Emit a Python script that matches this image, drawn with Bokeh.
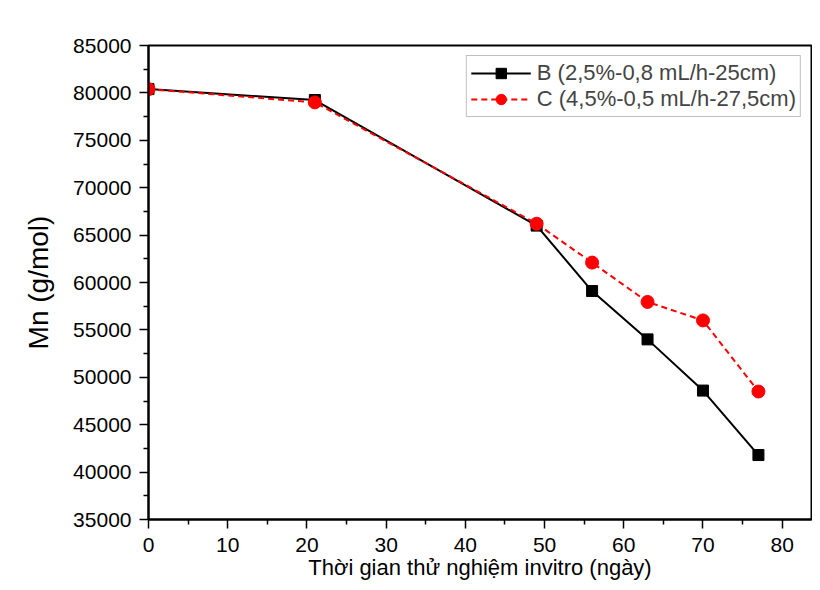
from bokeh.plotting import figure
from bokeh.models import Range1d, FixedTicker
from bokeh.embed import file_html
from bokeh.resources import INLINE

# ---- data ----
days = [0, 21, 49, 56, 63, 70, 77]
mn_B = [80400, 79250, 66000, 59100, 54000, 48600, 41800]
mn_C = [80400, 79000, 66200, 62100, 57950, 56000, 48500]
label_B = "B (2,5%-0,8 mL/h-25cm)"
label_C = "C (4,5%-0,5 mL/h-27,5cm)"
x_ticks = [0, 10, 20, 30, 40, 50, 60, 70, 80]
x_minor = [5, 15, 25, 35, 45, 55, 65, 75]
y_ticks = [35000, 40000, 45000, 50000, 55000, 60000, 65000, 70000, 75000, 80000, 85000]
y_minor = [37500, 42500, 47500, 52500, 57500, 62500, 67500, 72500, 77500, 82500]
x_title = "Thời gian thử nghiệm invitro (ngày)"
y_title = "Mn (g/mol)"

FONT = "Liberation Sans"
W, H = 812, 582

p = figure(width=W, height=H, output_backend="svg", toolbar_location=None,
           x_range=Range1d(0, 83.7), y_range=Range1d(35000, 85000),
           min_border_left=148, min_border_right=1, min_border_top=45,
           min_border_bottom=61, border_fill_color="white",
           background_fill_color="white")

p.xgrid.visible = False
p.ygrid.visible = False
p.outline_line_color = "black"
p.outline_line_width = 2

# series B
p.line(days, mn_B, line_color="black", line_width=2, legend_label=label_B)
p.scatter(days, mn_B, marker="square", size=11, fill_color="black",
          line_color="black", legend_label=label_B)
# series C
p.line(days, mn_C, line_color="red", line_width=2, line_dash="6 4",
       legend_label=label_C)
p.scatter(days, mn_C, marker="circle", size=13, fill_color="red",
          line_color="red", legend_label=label_C)

for ax in (p.xaxis[0], p.yaxis[0]):
    ax.axis_line_width = 2
    ax.axis_line_color = "black"
    ax.major_tick_line_width = 1.5
    ax.minor_tick_line_width = 1.5
    ax.major_tick_in = 0
    ax.major_tick_out = 9
    ax.minor_tick_in = 0
    ax.minor_tick_out = 5
    ax.major_label_text_font = FONT
    ax.major_label_text_font_size = "21px"
    ax.major_label_text_color = "black"
    ax.axis_label_text_font = FONT
    ax.axis_label_text_font_style = "normal"
    ax.axis_label_text_color = "black"

p.xaxis[0].ticker = FixedTicker(ticks=x_ticks, minor_ticks=x_minor)
p.yaxis[0].ticker = FixedTicker(ticks=y_ticks, minor_ticks=y_minor)
p.xaxis[0].axis_label = x_title
p.yaxis[0].axis_label = y_title
p.xaxis[0].axis_label_text_font_size = "22px"
p.yaxis[0].axis_label_text_font_size = "28px"
p.xaxis[0].major_label_standoff = 9
p.xaxis[0].axis_label_standoff = 0
p.yaxis[0].major_label_standoff = 8
p.yaxis[0].axis_label_standoff = 16

lg = p.legend[0]
lg.location = "top_right"
lg.margin = 10
lg.padding = 4
lg.spacing = -3
lg.glyph_width = 60
lg.glyph_height = 26
lg.label_standoff = 6
lg.label_text_font = FONT
lg.label_text_font_size = "22px"
lg.label_height = 20
lg.border_line_color = "#808080"
lg.border_line_width = 1.5
lg.background_fill_alpha = 1

open("out.html", "w").write(file_html(p, INLINE))
